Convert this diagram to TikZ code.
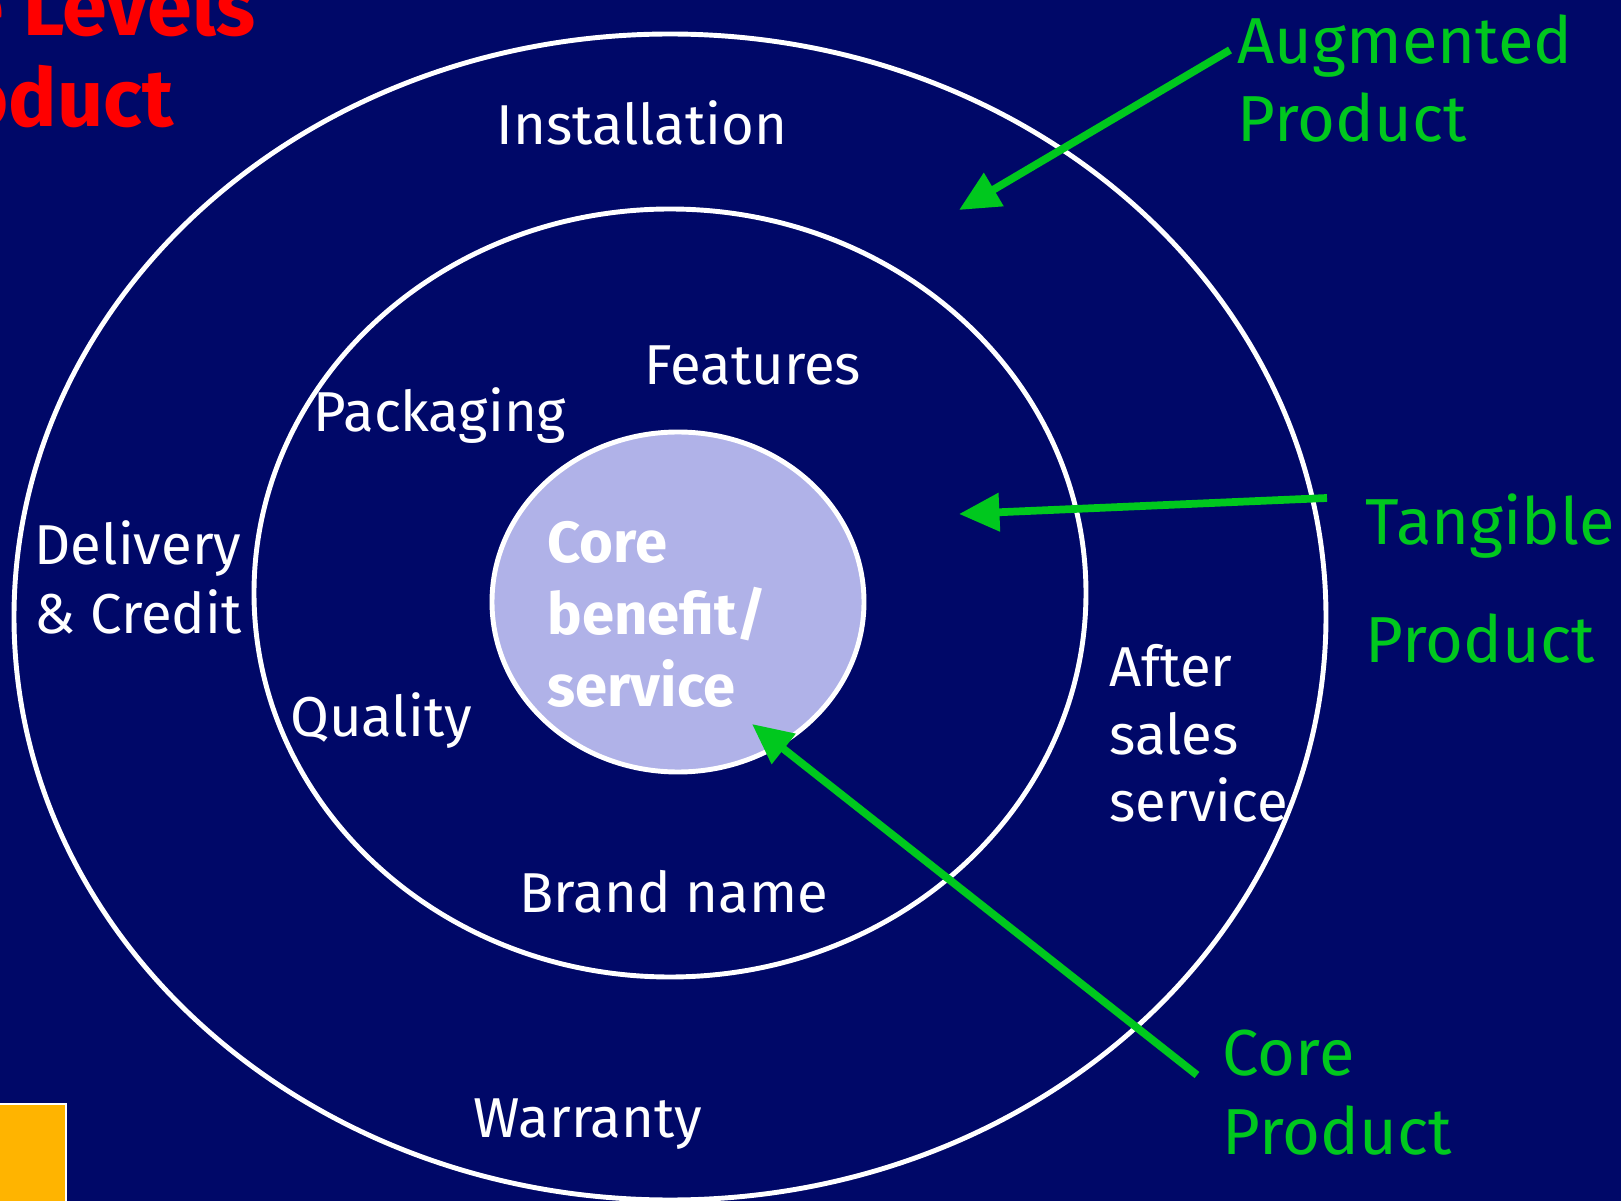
\documentclass[tikz,border=0pt]{standalone}
\usepackage{fontspec}
\setmainfont{Fira Sans}
\usetikzlibrary{arrows.meta,positioning}
\definecolor{navy}{RGB}{0,8,104}
\definecolor{lavender}{RGB}{176,178,232}
\definecolor{levelgreen}{RGB}{0,200,30}
\definecolor{tabyellow}{RGB}{255,180,0}
\tikzset{
  ring/.style={draw=white,line width=1.4pt},
  lbl/.style={text=white,inner sep=0pt,align=left,font=\fontsize{16}{19.2}\selectfont},
  lvl/.style={text=levelgreen,inner sep=0pt,align=left,font=\fontsize{18.5}{22}\selectfont},
  pointer/.style={draw=levelgreen,line width=2.2pt,-{Triangle[length=11.5pt,width=10.5pt]}}
}

\begin{document}
\begin{tikzpicture}

%background
\fill[navy] (0,0) rectangle (16.21,-12.01);
\useasboundingbox (0,0) rectangle (16.21,-12.01);

%title (cut off at the left)
\node[text=red,inner sep=0pt,anchor=base east,font=\fontsize{23}{27}\bfseries] (title1) at (2.56,-0.36) {Three Levels};
\node[text=red,inner sep=0pt,anchor=base east,font=\fontsize{23}{27}\bfseries] (title2) at (1.74,-1.27) {of Product};

%corner tab
\draw[white,line width=0.6pt,fill=tabyellow] (-0.2,-11.04) rectangle (0.66,-12.3);

%rings
\draw[ring] (6.70,-6.17) ellipse (6.56 and 5.83);
\draw[ring] (6.70,-5.93) ellipse (4.16 and 3.84);
\draw[ring,fill=lavender] (6.78,-6.02) ellipse (1.86 and 1.70);

%augmented level
\node[lbl,anchor=base] (install) at (6.42,-1.45) {Installation};
\node[lbl,anchor=north west,font=\fontsize{16}{19.6}\selectfont] (delivery) at (0.34,-5.20) {Delivery\\\& Credit};
\node[lbl,anchor=north west] (after) at (11.09,-6.44) {After\\sales\\service};
\node[lbl,anchor=base] (warranty) at (5.88,-11.37) {Warranty};

%tangible level
\node[lbl,anchor=base] (features) at (7.53,-3.85) {Features};
\node[lbl,anchor=base] (packaging) at (4.40,-4.32) {Packaging};
\node[lbl,anchor=base] (quality) at (3.81,-7.36) {Quality};
\node[lbl,anchor=base] (brand) at (6.74,-9.12) {Brand name};

%core
\node[lbl,anchor=north west,font=\fontsize{16.5}{20.5}\bfseries] (core) at (5.47,-5.21) {Core\\benefit/\\service};

%level names
\node[lvl,anchor=north west,font=\fontsize{18.5}{22.2}\selectfont] (augname) at (12.37,-0.14) {Augmented\\Product};
\node[lvl,anchor=north west,font=\fontsize{18.5}{33.7}\selectfont] (tangname) at (13.65,-4.93) {Tangible\\Product};
\node[lvl,anchor=north west,font=\fontsize{18.5}{22.5}\selectfont] (corename) at (12.22,-10.29) {Core\\Product};

%pointers
\coordinate (augtail) at (12.30,-0.50);
\coordinate (augtip) at (9.59,-2.10);
\coordinate (tangtail) at (13.27,-4.98);
\coordinate (tangtip) at (9.59,-5.14);
\coordinate (coretail) at (11.97,-10.75);
\coordinate (coretip) at (7.52,-7.24);
\draw[pointer] (augtail) -- (augtip);
\draw[pointer] (tangtail) -- (tangtip);
\draw[pointer] (coretail) -- (coretip);

\end{tikzpicture}
\end{document}
